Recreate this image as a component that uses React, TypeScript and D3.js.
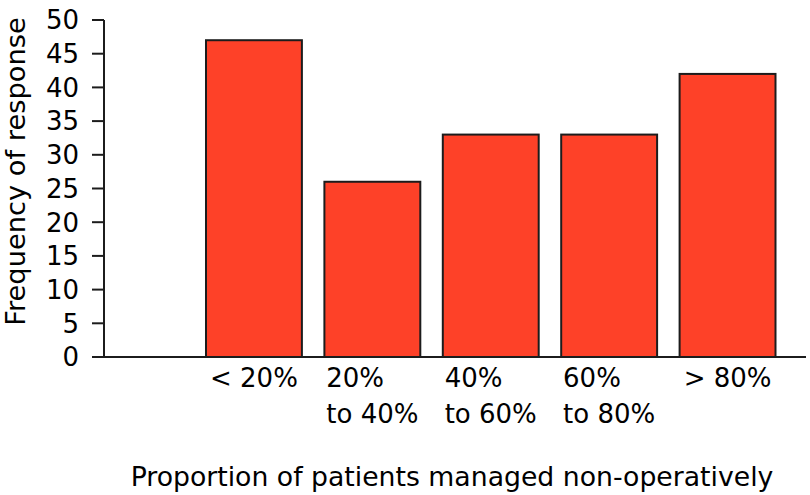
import React, { useLayoutEffect, useRef, useState } from "react";
import * as d3 from "d3";

const categories = ["< 20%", "20% to 40%", "40% to 60%", "60% to 80%", "> 80%"];
const labelLines = [["< 20%"], ["20%", "to 40%"], ["40%", "to 60%"], ["60%", "to 80%"], ["> 80%"]];
const frequencies = [47, 26, 33, 33, 42];
const yTicks = [0, 5, 10, 15, 20, 25, 30, 35, 40, 45, 50];
const yTitle = "Frequency of response";
const xTitle = "Proportion of patients managed non-operatively";

const W = 810;
const H = 495;
const FONT = "'DejaVu Sans', sans-serif";
const FILL = "#fe4128";
const STROKE = "#1c1c1c";

export default function App() {
  const x = d3.scaleBand<string>().domain(categories).range([194.75, 786.75]).paddingInner(0.19).paddingOuter(0.095);
  const y = d3.scaleLinear().domain([0, 50]).range([357, 20]);
  const axisLeft = 104;
  const labelRefs = useRef<(SVGGElement | null)[]>([]);
  const [offsets, setOffsets] = useState<number[]>(categories.map(() => 0));

  useLayoutEffect(() => {
    const o = labelRefs.current.map((g) => {
      if (!g) return 0;
      const texts = Array.from(g.querySelectorAll("text")) as SVGTextElement[];
      const maxW = d3.max(texts, (t) => t.getComputedTextLength()) || 0;
      return -maxW / 2;
    });
    setOffsets(o);
  }, []);

  return (
    <svg width={W} height={H} style={{ position: "absolute", left: 0, top: 0, background: "#fff" }} fontFamily={FONT}>
      {categories.map((c, i) => (
        <rect
          key={c}
          x={x(c)}
          y={y(frequencies[i])}
          width={x.bandwidth()}
          height={y(0) - y(frequencies[i])}
          fill={FILL}
          stroke={STROKE}
          strokeWidth={2}
        />
      ))}
      <line x1={axisLeft} x2={axisLeft} y1={y(50)} y2={y(0)} stroke={STROKE} strokeWidth={2} />
      {yTicks.map((t) => (
        <g key={t}>
          <line x1={axisLeft - 12} x2={axisLeft} y1={y(t)} y2={y(t)} stroke={STROKE} strokeWidth={2} />
          <text x={79} y={y(t)} dy="0.36em" textAnchor="end" fontSize={26} fill="#000">
            {t}
          </text>
        </g>
      ))}
      <line x1={axisLeft - 12} x2={806} y1={y(0)} y2={y(0)} stroke={STROKE} strokeWidth={2} />
      {categories.map((c, i) => (
        <g
          key={c}
          ref={(el) => {
            labelRefs.current[i] = el;
          }}
          transform={`translate(${(x(c) as number) + x.bandwidth() / 2},0)`}
        >
          {labelLines[i].map((line, j) => (
            <text key={j} x={offsets[i]} y={387 + j * 35.5} fontSize={26} fill="#000">
              {line}
            </text>
          ))}
        </g>
      ))}
      <text transform={`translate(25,${(18 + 325) / 2}) rotate(-90)`} textAnchor="middle" fontSize={27.3} fill="#000">
        {yTitle}
      </text>
      <text x={452} y={486} textAnchor="middle" fontSize={26.7} fill="#000">
        {xTitle}
      </text>
    </svg>
  );
}
